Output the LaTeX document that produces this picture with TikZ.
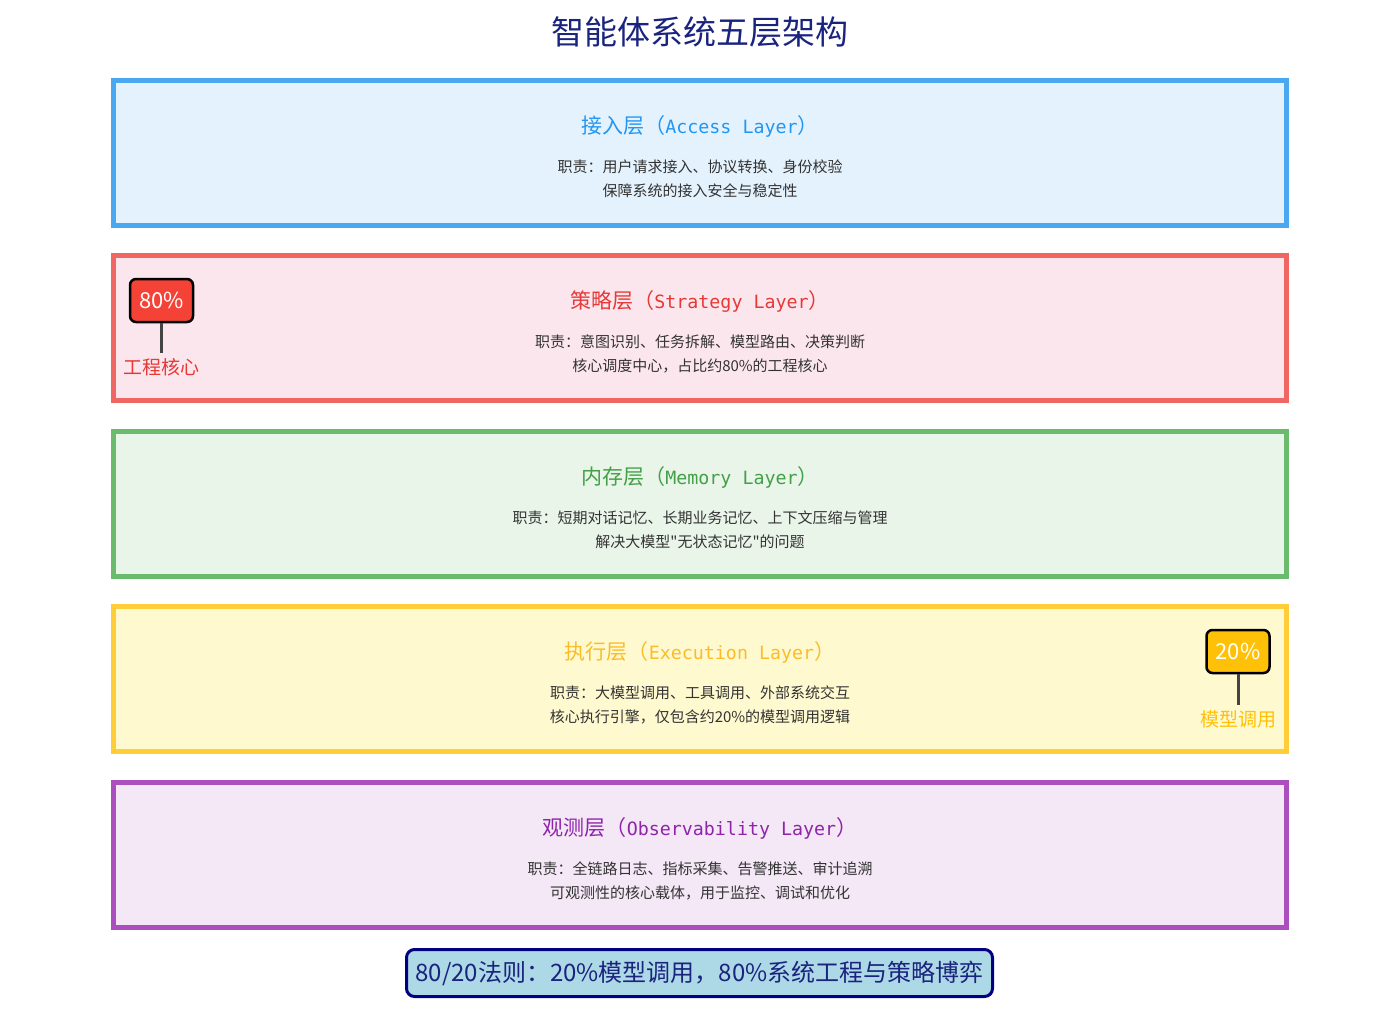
\documentclass[tikz,border=0pt]{standalone}
\usepackage{fontspec}
\setmainfont{Noto Sans CJK SC}[Ligatures=TeXOff]
\newfontfamily\latmono{DejaVu Sans Mono}
\usetikzlibrary{positioning}

\definecolor{titlenavy}{HTML}{1A237E}
\definecolor{bodygray}{HTML}{333333}
\definecolor{accessline}{HTML}{4AA8F0}
\definecolor{accessfill}{HTML}{E4F2FD}
\definecolor{accesstext}{HTML}{2196F3}
\definecolor{strategyline}{HTML}{EF6662}
\definecolor{strategyfill}{HTML}{FCE6EE}
\definecolor{strategytext}{HTML}{E53935}
\definecolor{memoryline}{HTML}{6ABB6C}
\definecolor{memoryfill}{HTML}{EAF5EA}
\definecolor{memorytext}{HTML}{43A047}
\definecolor{execline}{HTML}{FFCD38}
\definecolor{execfill}{HTML}{FFF9D0}
\definecolor{exectext}{HTML}{FBBC2A}
\definecolor{obsline}{HTML}{AB4FBE}
\definecolor{obsfill}{HTML}{F4E7F6}
\definecolor{obstext}{HTML}{8E24AA}
\definecolor{badgered}{HTML}{F44336}
\definecolor{badgeyellow}{HTML}{FFC107}
\definecolor{stemgray}{HTML}{444444}
\definecolor{rulefill}{HTML}{ADD8E6}
\definecolor{ruleline}{HTML}{000080}

\tikzset{
  layerbox/.style={rectangle, minimum width=1173pt, minimum height=145pt, inner sep=0pt, line width=5pt},
  layertitle/.style={inner sep=0pt, font=\fontsize{21}{25}\selectfont},
  layerbody/.style={inner sep=0pt, align=center, text=bodygray, font=\fontsize{15}{24}\selectfont},
  badge/.style={rectangle, rounded corners=6pt, draw=black, line width=2.5pt, minimum width=63pt, minimum height=43pt, inner sep=0pt, text=white, font=\fontsize{22}{26}\selectfont},
  badgelabel/.style={anchor=north, inner sep=5pt, font=\fontsize{19}{22}\selectfont},
  stem/.style={draw=stemgray, line width=3pt}
}

\newcommand{\en}[1]{{\latmono\fontsize{18.3}{22}\selectfont #1}}

\begin{document}
\begin{tikzpicture}[x=1pt, y=-1pt]
    \useasboundingbox (0,0) rectangle (1400,1012);

    % Title
    \node[inner sep=0pt, text=titlenavy, font=\fontsize{33}{38}\selectfont] (title) at (700,32) {智能体系统五层架构};

    % Access layer
    \node[layerbox, draw=accessline, fill=accessfill] (access) at (700,153) {};
    \node[layertitle, text=accesstext] (accesstitle) at (700,126) {接入层（\en{Access Layer}）};
    \node[layerbody] (accessbody) at (700,179) {职责：用户请求接入、协议转换、身份校验\\保障系统的接入安全与稳定性};

    % Strategy layer
    \node[layerbox, draw=strategyline, fill=strategyfill] (strategy) at (700,328) {};
    \node[layertitle, text=strategytext] (strategytitle) at (700,301) {策略层（\en{Strategy Layer}）};
    \node[layerbody] (strategybody) at (700,354) {职责：意图识别、任务拆解、模型路由、决策判断\\核心调度中心，占比约80\%的工程核心};

    % Memory layer
    \node[layerbox, draw=memoryline, fill=memoryfill] (memory) at (700,504) {};
    \node[layertitle, text=memorytext] (memorytitle) at (700,477) {内存层（\en{Memory Layer}）};
    \node[layerbody] (memorybody) at (700,530) {职责：短期对话记忆、长期业务记忆、上下文压缩与管理\\解决大模型"无状态记忆"的问题};

    % Execution layer
    \node[layerbox, draw=execline, fill=execfill] (exec) at (700,679) {};
    \node[layertitle, text=exectext] (exectitle) at (700,652) {执行层（\en{Execution Layer}）};
    \node[layerbody] (execbody) at (700,705) {职责：大模型调用、工具调用、外部系统交互\\核心执行引擎，仅包含约20\%的模型调用逻辑};

    % Observability layer
    \node[layerbox, draw=obsline, fill=obsfill] (obs) at (700,855) {};
    \node[layertitle, text=obstext] (obstitle) at (700,828) {观测层（\en{Observability Layer}）};
    \node[layerbody] (obsbody) at (700,881) {职责：全链路日志、指标采集、告警推送、审计追溯\\可观测性的核心载体，用于监控、调试和优化};

    % Badge 80%
    \node[badge, fill=badgered] (pcteighty) at (161.5,300.5) {80\%};
    \node[badgelabel, text=strategytext] (corelabel) at (161.5,353) {工程核心};
    \draw[stem] (pcteighty.south) -- (corelabel.north);

    % Badge 20%
    \node[badge, fill=badgeyellow] (pcttwenty) at (1238,651.5) {20\%};
    \node[badgelabel, text=badgeyellow] (modellabel) at (1238,705) {模型调用};
    \draw[stem] (pcttwenty.south) -- (modellabel.north);

    % 80/20 rule
    \node[rectangle, rounded corners=8pt, draw=ruleline, fill=rulefill, line width=3pt, minimum width=586pt, minimum height=47pt, inner sep=0pt, text=titlenavy, font=\fontsize{24}{28}\selectfont] (rule) at (699.5,973) {80/20法则：20\%模型调用，80\%系统工程与策略博弈};
\end{tikzpicture}
\end{document}
